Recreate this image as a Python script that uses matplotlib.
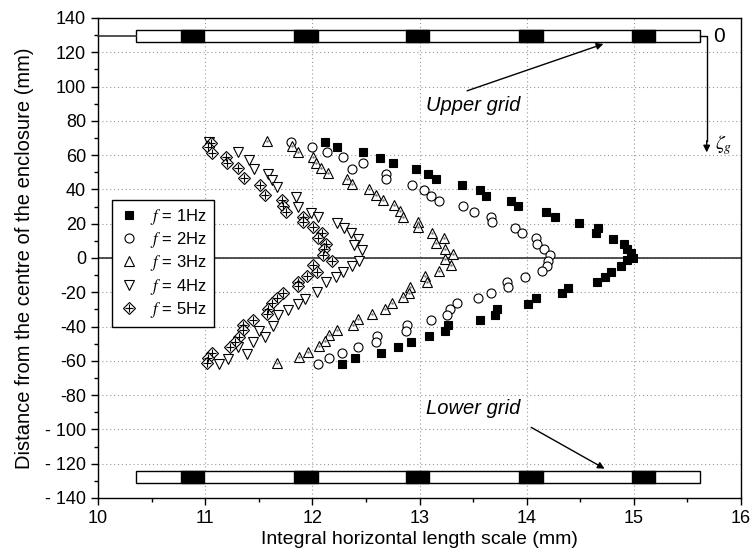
import matplotlib
matplotlib.use("Agg")
import matplotlib.pyplot as plt
from matplotlib.patches import Rectangle
from matplotlib.ticker import MultipleLocator, FixedLocator, FixedFormatter

plt.rcParams['font.family'] = ['Liberation Sans', 'DejaVu Sans']
plt.rcParams['mathtext.fontset'] = 'stix'
plt.rcParams['axes.unicode_minus'] = False

# f = 1Hz
x1 = [12.12, 12.23, 12.47, 12.63, 12.75, 12.97, 13.08, 13.15, 13.40, 13.56, 13.62, 13.85, 13.92, 14.18, 14.26,
      14.49, 14.67, 14.65, 14.81, 14.91, 14.94, 14.97, 14.99, 14.94, 14.88, 14.79, 14.73, 14.66, 14.39, 14.33,
      14.09, 14.01, 13.72, 13.70, 13.56, 13.27, 13.24, 13.09, 12.92, 12.80, 12.64, 12.40, 12.28]
y1 = [67.7, 64.8, 61.8, 58.3, 55.4, 51.9, 49.0, 46.1, 42.6, 39.7, 36.2, 33.3, 30.3, 26.8, 23.9,
      20.4, 17.5, 14.6, 11.1, 8.2, 5.3, 2.9, 0.0, -1.2, -4.7, -8.2, -11.1, -14.0, -17.5, -20.4,
      -23.3, -26.8, -29.8, -33.3, -36.2, -39.1, -42.6, -45.5, -49.0, -51.9, -55.4, -58.3, -61.8]

# f = 2Hz
x2 = [11.80, 12.00, 12.14, 12.29, 12.47, 12.37, 12.69, 12.69, 12.93, 13.04, 13.11, 13.18, 13.41, 13.51,
      13.67, 13.68, 13.89, 13.96, 14.09, 14.10, 14.16, 14.22, 14.20, 14.19, 14.14, 13.98, 13.82, 13.83,
      13.67, 13.55, 13.35, 13.28, 13.26, 13.11, 12.88, 12.87, 12.60, 12.59, 12.43, 12.28, 12.16, 12.05]
y2 = [67.7, 64.8, 61.8, 58.9, 55.4, 51.9, 49.0, 46.1, 42.6, 39.7, 36.2, 33.3, 30.3, 26.8,
      23.9, 21.0, 17.5, 14.6, 11.7, 8.2, 5.3, 1.8, -1.8, -4.7, -7.6, -11.1, -14.0, -16.9,
      -20.4, -23.3, -26.3, -29.8, -33.3, -36.2, -39.1, -42.6, -45.5, -49.0, -51.9, -55.4, -58.3, -61.8]

# f = 3Hz
x3 = [11.58, 11.81, 11.87, 12.01, 12.03, 12.08, 12.15, 12.32, 12.37, 12.53, 12.59, 12.66, 12.76, 12.82,
      12.85, 12.99, 12.99, 13.12, 13.23, 13.15, 13.24, 13.31, 13.24, 13.29, 13.18, 13.05, 13.07, 12.91,
      12.90, 12.85, 12.74, 12.68, 12.56, 12.43, 12.38, 12.23, 12.16, 12.12, 12.06, 11.96, 11.88, 11.67]
y3 = [68.3, 65.3, 61.8, 58.9, 55.4, 52.5, 49.6, 46.1, 43.2, 40.3, 36.8, 33.8, 30.9, 27.4,
      23.9, 21.0, 18.1, 14.6, 11.7, 8.8, 5.3, 2.3, -0.6, -4.1, -7.6, -10.5, -14.0, -16.9,
      -20.4, -22.8, -26.3, -29.8, -32.7, -35.6, -39.1, -42.0, -44.9, -48.4, -51.3, -54.8, -57.8, -61.3]

# f = 4Hz
x4 = [11.04, 11.31, 11.41, 11.46, 11.59, 11.62, 11.67, 11.85, 11.87, 11.99, 12.05, 12.23, 12.30, 12.36,
      12.43, 12.39, 12.46, 12.44, 12.37, 12.29, 12.22, 12.13, 12.04, 11.93, 11.87, 11.77, 11.68, 11.63,
      11.50, 11.56, 11.45, 11.31, 11.39, 11.21, 11.13]
y4 = [67.7, 61.8, 57.2, 51.9, 49.0, 45.5, 41.4, 35.6, 29.8, 26.3, 23.9, 20.4, 17.5, 14.6,
      11.1, 7.6, 4.7, -1.8, -4.7, -8.2, -11.1, -14.0, -19.8, -23.9, -26.8, -30.3, -33.3, -39.7,
      -42.6, -46.1, -49.0, -51.9, -56.0, -58.9, -61.8]

# f = 5Hz
x5 = [11.05, 11.03, 11.06, 11.19, 11.20, 11.31, 11.36, 11.51, 11.56, 11.72, 11.73, 11.75, 11.91, 11.91,
      12.01, 12.09, 12.05, 12.13, 12.11, 12.10, 12.18, 12.01, 12.04, 11.95, 11.87, 11.87, 11.73, 11.67,
      11.62, 11.59, 11.58, 11.45, 11.35, 11.35, 11.32, 11.28, 11.23, 11.06, 11.03, 11.02]
y5 = [67.1, 64.8, 61.3, 58.9, 55.4, 52.5, 46.7, 42.6, 36.8, 33.8, 30.3, 26.8, 23.9, 21.0,
      18.1, 14.6, 11.7, 8.2, 5.3, 1.8, -1.8, -4.1, -8.2, -10.5, -14.0, -16.3, -20.4, -23.3,
      -26.3, -29.8, -32.7, -36.2, -39.1, -42.0, -46.1, -49.0, -51.9, -55.4, -58.3, -61.3]

labels = [r'$f$ = 1Hz', r'$f$ = 2Hz', r'$f$ = 3Hz', r'$f$ = 4Hz', r'$f$ = 5Hz']

y_ticks = [-140, -120, -100, -80, -60, -40, -20, 0, 20, 40, 60, 80, 100, 120, 140]
y_ticklabels = ['- 140', '- 120', '- 100', '-80', '-60', '-40', '-20', '0',
                '20', '40', '60', '80', '100', '120', '140']

# grid bars (turbulence grids)
bar_x0, bar_x1 = 10.35, 15.62
upper_y0, upper_y1 = 125.8, 133.2
lower_y0, lower_y1 = -131.0, -124.0
block_starts = [10.77, 11.83, 12.87, 13.93, 14.98]
block_w = 0.22

fig = plt.figure(figsize=(7.56, 5.56), dpi=100)
ax = fig.add_axes([98 / 756, 58 / 556, 643 / 756, 480 / 556])

ax.grid(True, which='major', color='#999999', linestyle=(0, (1, 2.5)), linewidth=0.8)
ax.set_axisbelow(True)

ax.axhline(0, color='#333333', lw=1.2, zorder=2)

ms = 6.5
h1, = ax.plot(x1, y1, 's', ms=ms - 0.5, mfc='black', mec='black', mew=0.8, ls='none', zorder=4)
h2, = ax.plot(x2, y2, 'o', ms=ms, mfc='white', mec='black', mew=0.8, ls='none', zorder=4)
h3, = ax.plot(x3, y3, '^', ms=ms + 0.5, mfc='white', mec='black', mew=0.8, ls='none', zorder=4)
ax.plot(x3, y3, '.', ms=1.5, color='#777777', ls='none', zorder=5)
h4, = ax.plot(x4, y4, 'v', ms=ms + 0.5, mfc='white', mec='black', mew=0.8, ls='none', zorder=4)
h5a, = ax.plot(x5, y5, 'D', ms=ms - 0.5, mfc='white', mec='black', mew=0.8, ls='none', zorder=4)
h5b, = ax.plot(x5, y5, '+', ms=ms - 0.5, color='black', mew=0.8, ls='none', zorder=5)

for yb0, yb1 in [(upper_y0, upper_y1), (lower_y0, lower_y1)]:
    ax.add_patch(Rectangle((bar_x0, yb0), bar_x1 - bar_x0, yb1 - yb0, fc='white', ec='black', lw=1, zorder=3))
    for bs in block_starts:
        ax.add_patch(Rectangle((bs, yb0), block_w, yb1 - yb0, fc='black', ec='black', lw=1, zorder=3))

ymid = (upper_y0 + upper_y1) / 2
ax.plot([10, bar_x0], [ymid, ymid], color='#333333', lw=1.2, zorder=3, clip_on=False)
ax.plot([bar_x1, 15.68, 15.68], [ymid, ymid, 68], color='black', lw=1, zorder=3)
ax.annotate('', xy=(15.68, 60), xytext=(15.68, 70),
            arrowprops=dict(arrowstyle='-|>', color='black', lw=1, mutation_scale=10))
ax.text(15.74, ymid, '0', fontsize=15, va='center', ha='left')
ax.text(15.76, 66, r'$\zeta_{g}$', fontsize=14, va='center', ha='left')

ax.text(13.06, 89, 'Upper grid', fontsize=14.5, style='italic', va='center', ha='left')
ax.annotate('', xy=(14.74, 125.4), xytext=(13.42, 97),
            arrowprops=dict(arrowstyle='-|>', color='black', lw=1, mutation_scale=10))
ax.text(13.06, -87.5, 'Lower grid', fontsize=14.5, style='italic', va='center', ha='left')
ax.annotate('', xy=(14.75, -123.7), xytext=(14.02, -98),
            arrowprops=dict(arrowstyle='-|>', color='black', lw=1, mutation_scale=10))

ax.set_xlim(10, 16)
ax.set_ylim(-140, 140)
ax.xaxis.set_major_locator(MultipleLocator(1))
ax.xaxis.set_minor_locator(MultipleLocator(0.5))
ax.yaxis.set_major_locator(FixedLocator(y_ticks))
ax.yaxis.set_major_formatter(FixedFormatter(y_ticklabels))
ax.yaxis.set_minor_locator(MultipleLocator(10))
ax.tick_params(which='major', direction='out', length=5, width=1, labelsize=13)
ax.tick_params(which='minor', direction='out', length=3, width=1)
for sp in ax.spines.values():
    sp.set_linewidth(1)

ax.set_xlabel('Integral horizontal length scale (mm)', fontsize=14, labelpad=3)
ax.set_ylabel('Distance from the centre of the enclosure (mm)', fontsize=14.5, labelpad=8)

leg = ax.legend([h1, h2, h3, h4, (h5a, h5b)], labels, loc='upper left',
                bbox_to_anchor=(0.022, 0.621), borderaxespad=0, fontsize=12,
                fancybox=False, edgecolor='black', framealpha=1, handlelength=1.2,
                handletextpad=0.7, labelspacing=0.2, borderpad=0.4)
leg.get_frame().set_linewidth(1)

fig.savefig('out.png', dpi=100)
